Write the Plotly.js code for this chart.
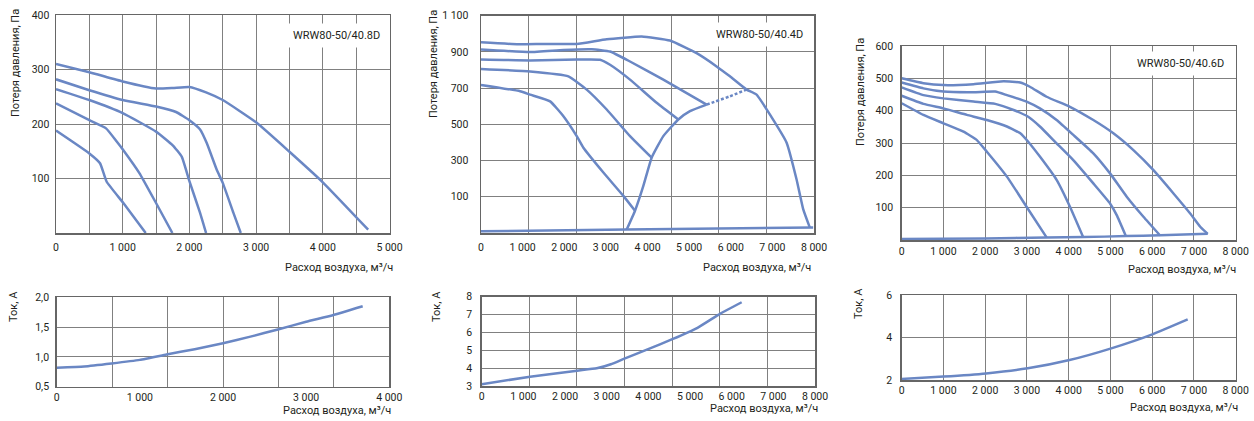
<!DOCTYPE html>
<html>
<head>
<meta charset="utf-8">
<script src="https://cdn.plot.ly/plotly-3.0.1.min.js"></script>
<style>html,body{margin:0;padding:0;background:#fff}#chart{width:1254px;height:421px}</style>
</head>
<body>
<div id="chart"></div>
<script>
// ---------- DATA ----------
// Chart 1: WRW80-50/40.8D  (air flow m3/h -> pressure Pa)
const c1_name = 'WRW80-50/40.8D';
const c1_q1 = [0, 500, 1000, 1500, 1750, 2000, 2250, 2500, 3000, 3500, 4000, 4680];
const c1_p1 = [310, 295, 278, 265, 266, 268, 258, 244, 203, 149, 93, 6];
const c1_q2 = [0, 500, 1000, 1500, 1800, 2000, 2160, 2260, 2410, 2500, 2660, 2770];
const c1_p2 = [282, 262, 244, 232, 222, 207, 190, 165, 116, 92, 37, 0];
const c1_q3 = [0, 500, 1000, 1500, 1750, 1885, 2000, 2160, 2250];
const c1_p3 = [264, 244, 220, 186, 161, 140, 95, 37, 0];
const c1_q4 = [0, 500, 750, 910, 1010, 1250, 1500, 1745];
const c1_p4 = [238, 207, 192, 168, 152, 110, 55, 0];
const c1_q5 = [0, 500, 660, 760, 1010, 1345];
const c1_p5 = [188, 146, 128, 94, 55, 0];

// Chart 2: WRW80-50/40.4D
const c2_name = 'WRW80-50/40.4D';
const c2_q1 = [0, 900, 1500, 2300, 3020, 3860, 4540, 5180, 5660, 5980, 6380, 6620, 6980, 7340, 7580, 7740, 7900];
const c2_p1 = [953, 942, 944, 944, 970, 985, 963, 893, 820, 765, 692, 664, 540, 400, 197, 32, -70];
const c2_q2 = [0, 1180, 1980, 2660, 3100, 3580, 4380, 5420];
const c2_p2 = [913, 899, 911, 915, 902, 847, 747, 609];
const c2_q3 = [0, 1180, 2300, 2860, 3100, 3580, 4220, 4740];
const c2_p3 = [858, 853, 858, 857, 829, 747, 619, 527];
const c2_q4 = [0, 1180, 2100, 2540, 3020, 3580, 4100];
const c2_p4 = [806, 792, 765, 692, 582, 435, 316];
const c2_q5 = [0, 940, 1180, 1660, 1980, 2300, 2460, 2940, 3420, 3700];
const c2_p5 = [718, 683, 664, 627, 545, 435, 371, 234, 105, 23];
const c2_qLim = [3500, 3700, 3900, 4100, 4380, 4740, 5020, 5420];
const c2_pLim = [-81, 23, 160, 316, 435, 527, 573, 609];
const c2_qDash = [5420, 5980, 6380];
const c2_pDash = [609, 655, 692];
const c2_qSys = [0, 3500, 7980];
const c2_pSys = [-91, -81, -70];

// Chart 3: WRW80-50/40.6D
const c3_name = 'WRW80-50/40.6D';
const c3_q1 = [0, 520, 1000, 1720, 2440, 2840, 3070, 3470, 4030, 4590, 5070, 5550, 6030, 6510, 6910, 7150, 7330];
const c3_p1 = [500, 485, 479, 482, 491, 487, 474, 443, 412, 371, 330, 278, 216, 144, 82, 41, 19];
const c3_q2 = [0, 520, 1000, 1720, 2240, 2520, 2990, 3310, 3710, 4110, 4590, 4990, 5390, 5790, 6190];
const c3_p2 = [487, 469, 459, 457, 459, 448, 428, 407, 371, 325, 268, 206, 134, 72, 14];
const c3_q3 = [0, 520, 1000, 1720, 2240, 2680, 3030, 3310, 3710, 4110, 4590, 4990, 5150, 5370];
const c3_p3 = [472, 448, 438, 428, 421, 402, 381, 351, 299, 247, 175, 113, 77, 12];
const c3_q4 = [0, 520, 1000, 1560, 2040, 2520, 2840, 3030, 3310, 3710, 4030, 4350];
const c3_p4 = [446, 421, 407, 387, 371, 351, 330, 304, 258, 186, 103, 8];
const c3_q5 = [0, 520, 1000, 1480, 1800, 2040, 2520, 2990, 3470];
const c3_p5 = [423, 387, 361, 335, 309, 273, 196, 103, 8];
const c3_qSys = [0, 2000, 3470, 4350, 5370, 6190, 7330];
const c3_pSys = [3, 5, 8, 9, 12, 15, 19];

// Current charts (air flow m3/h -> current A)
const c4_q = [0, 330, 660, 1000, 1320, 1660, 2000, 2330, 2660, 3000, 3320, 3680];
const c4_i = [0.82, 0.84, 0.89, 0.95, 1.04, 1.13, 1.23, 1.34, 1.46, 1.59, 1.70, 1.85];
const c5_q = [0, 1160, 2290, 2760, 3100, 3440, 3980, 4575, 5180, 5740, 6240];
const c5_i = [3.1, 3.52, 3.86, 3.99, 4.22, 4.55, 5.05, 5.62, 6.26, 7.07, 7.69];
const c6_q = [0, 1000, 2020, 3020, 4020, 5020, 6020, 6850];
const c6_i = [2.05, 2.16, 2.31, 2.55, 2.94, 3.49, 4.16, 4.85];

// Tick labels
const x5k_vals = [0, 1000, 2000, 3000, 4000, 5000];
const x5k_text = ['0', '1 000', '2 000', '3 000', '4 000', '5 000'];
const x8k_vals = [0, 1000, 2000, 3000, 4000, 5000, 6000, 7000, 8000];
const x8k_text = ['0', '1 000', '2 000', '3 000', '4 000', '5 000', '6 000', '7 000', '8 000'];
const x4k_vals = [0, 1000, 2000, 3000, 4000];
const x4k_text = ['0', '1 000', '2 000', '3 000', '4 000'];
const y1_vals = [100, 200, 300, 400];
const y1_text = ['100', '200', '300', '400'];
const y2_vals = [100, 300, 500, 700, 900, 1100];
const y2_text = ['100', '300', '500', '700', '900', '1 100'];
const y3_vals = [100, 200, 300, 400, 500, 600];
const y3_text = ['100', '200', '300', '400', '500', '600'];
const y4_vals = [0.5, 1.0, 1.5, 2.0];
const y4_text = ['0,5', '1,0', '1,5', '2,0'];
const y5_vals = [3, 4, 5, 6, 7, 8];
const y5_text = ['3', '4', '5', '6', '7', '8'];
const y6_vals = [2, 4, 6];
const y6_text = ['2', '4', '6'];

const yTitleP = 'Потеря давления, Па';
const yTitleI = 'Ток, А';
const xTitle = 'Расход воздуха, м³/ч';

// ---------- STYLE ----------
const FONT = 'Roboto, "Noto Sans", sans-serif';
const FS = 10.5;
const LINE = '#6a87c4';
const GRID = '#808080';
const AXL = '#666666';
const W = 1254, H = 421;
const fx = p => p / W;
const fy = p => 1 - p / H;

function tr(x, y, xa, ya, dash) {
  return {x: x, y: y, xaxis: xa, yaxis: ya, type: 'scatter', mode: 'lines',
    line: {color: LINE, width: 2.5, dash: dash || 'solid', shape: 'spline', smoothing: 0.4},
    hoverinfo: 'skip', showlegend: false};
}

const traces = [
  tr(c1_q1, c1_p1, 'x', 'y'), tr(c1_q2, c1_p2, 'x', 'y'), tr(c1_q3, c1_p3, 'x', 'y'),
  tr(c1_q4, c1_p4, 'x', 'y'), tr(c1_q5, c1_p5, 'x', 'y'),
  tr(c2_q1, c2_p1, 'x2', 'y2'), tr(c2_q2, c2_p2, 'x2', 'y2'), tr(c2_q3, c2_p3, 'x2', 'y2'),
  tr(c2_q4, c2_p4, 'x2', 'y2'), tr(c2_q5, c2_p5, 'x2', 'y2'), tr(c2_qLim, c2_pLim, 'x2', 'y2'),
  tr(c2_qDash, c2_pDash, 'x2', 'y2', '3px,2px'), tr(c2_qSys, c2_pSys, 'x2', 'y2'),
  tr(c3_q1, c3_p1, 'x3', 'y3'), tr(c3_q2, c3_p2, 'x3', 'y3'), tr(c3_q3, c3_p3, 'x3', 'y3'),
  tr(c3_q4, c3_p4, 'x3', 'y3'), tr(c3_q5, c3_p5, 'x3', 'y3'), tr(c3_qSys, c3_pSys, 'x3', 'y3'),
  tr(c4_q, c4_i, 'x4', 'y4'), tr(c5_q, c5_i, 'x5', 'y5'), tr(c6_q, c6_i, 'x6', 'y6'),
  // empty traces so the grid-only overlay axes get a subplot
  {x: [], y: [], xaxis: 'x7', yaxis: 'y4', type: 'scatter', showlegend: false},
  {x: [], y: [], xaxis: 'x8', yaxis: 'y5', type: 'scatter', showlegend: false},
  {x: [], y: [], xaxis: 'x9', yaxis: 'y2', type: 'scatter', showlegend: false}
];

const tickFont = {family: FONT, size: FS, color: '#231f20'};

function ax(dom, range, vals, text, anchor, opts) {
  return Object.assign({domain: dom, range: range, anchor: anchor, tickmode: 'array', tickvals: vals, ticktext: text,
    showgrid: true, gridcolor: GRID, gridwidth: 1, showline: true, linecolor: AXL, linewidth: 1.5, mirror: true,
    zeroline: false, ticks: '', tickfont: tickFont, ticklabelstandoff: 4, fixedrange: true}, opts || {});
}
function gridAx(over, anchor, range, vals) {
  return {overlaying: over, anchor: anchor, range: range, tickmode: 'array', tickvals: vals,
    showticklabels: false, showgrid: true, gridcolor: GRID, gridwidth: 1, showline: false, zeroline: false,
    ticks: '', fixedrange: true};
}

const gridEvery = (max, n) => Array.from({length: n + 1}, (_, k) => k * max / n);

const layout = {
  width: W, height: H, margin: {l: 0, r: 0, t: 0, b: 0},
  paper_bgcolor: '#fff', plot_bgcolor: '#fff', showlegend: false,
  font: {family: FONT, size: FS, color: '#231f20'},
  xaxis: ax([fx(56), fx(389.5)], [0, 5000], x5k_vals, x5k_text, 'y',
    {ticklabelstandoff: 4, minor: {dtick: 500, tick0: 0, showgrid: true, gridcolor: GRID, gridwidth: 1, ticks: ''}}),
  yaxis: ax([fy(233), fy(15)], [0, 400], y1_vals, y1_text, 'x', {ticklabelstandoff: 3}),
  xaxis2: ax([fx(481), fx(814)], [0, 8000], x8k_vals, x8k_text, 'y2', {showgrid: false, ticklabelstandoff: 4}),
  yaxis2: ax([fy(233), fy(15.7)], [-100, 1100], y2_vals, y2_text, 'x2', {ticklabelstandoff: 9}),
  xaxis9: gridAx('x2', 'y2', [0, 8000], gridEvery(8000, 7)),
  xaxis3: ax([fx(901.7), fx(1235.7)], [0, 8000], x8k_vals, x8k_text, 'y3', {ticklabelstandoff: 1}),
  yaxis3: ax([fy(240), fy(46)], [0, 600], y3_vals, y3_text, 'x3', {ticklabelstandoff: 5}),
  xaxis4: ax([fx(56.7), fx(389.3)], [0, 4000], x4k_vals, x4k_text, 'y4', {showgrid: false, ticklabelstandoff: 0}),
  yaxis4: ax([fy(386.7), fy(297.3)], [0.5, 2.0], y4_vals, y4_text, 'x4', {ticklabelstandoff: 4}),
  xaxis7: gridAx('x4', 'y4', [0, 4000], gridEvery(4000, 6)),
  xaxis5: ax([fx(481.7), fx(815)], [0, 8000], x8k_vals, x8k_text, 'y5', {showgrid: false, ticklabelstandoff: 0}),
  yaxis5: ax([fy(386), fy(296.7)], [3, 8], y5_vals, y5_text, 'x5', {ticklabelstandoff: 6}),
  xaxis8: gridAx('x5', 'y5', [0, 8000], gridEvery(8000, 7)),
  xaxis6: ax([fx(901.7), fx(1235.7)], [0, 8000], x8k_vals, x8k_text, 'y6', {ticklabelstandoff: 0}),
  yaxis6: ax([fy(380), fy(295)], [2, 6], y6_vals, y6_text, 'x6', {ticklabelstandoff: 6}),
  annotations: []
};

const ann = layout.annotations;
function boxLabel(text, xa, ya, x, y) {
  ann.push({text: text, xref: xa, yref: ya, x: x, y: y, showarrow: false, bgcolor: '#fff', borderpad: 5,
    font: {family: FONT, size: 11, color: '#231f20'}});
}
boxLabel(c1_name, 'x', 'y', 4200, 363);
boxLabel(c2_name, 'x2', 'y2', 6700, 994);
boxLabel(c3_name, 'x3', 'y3', 6670, 546);

function yTitle(text, px, py) {
  ann.push({text: text, xref: 'paper', yref: 'paper', x: fx(px), y: fy(py), textangle: -90, showarrow: false,
    xanchor: 'center', yanchor: 'middle', font: {family: FONT, size: 11, color: '#231f20'}});
}
function xTitleAt(px, py) {
  ann.push({text: xTitle, xref: 'paper', yref: 'paper', x: fx(px), y: fy(py), showarrow: false,
    xanchor: 'right', yanchor: 'middle', font: {family: FONT, size: 11, color: '#231f20'}});
}
yTitle(yTitleP, 15, 63);
yTitle(yTitleP, 433, 64);
yTitle(yTitleP, 860, 92);
yTitle(yTitleI, 13, 307);
yTitle(yTitleI, 436, 307);
yTitle(yTitleI, 858, 304);
xTitleAt(395, 267);
xTitleAt(813, 267);
xTitleAt(1238, 269);
xTitleAt(393, 410);
xTitleAt(820, 408);
xTitleAt(1240, 407);

Plotly.newPlot('chart', traces, layout, {staticPlot: true, displayModeBar: false});
</script>
</body>
</html>
